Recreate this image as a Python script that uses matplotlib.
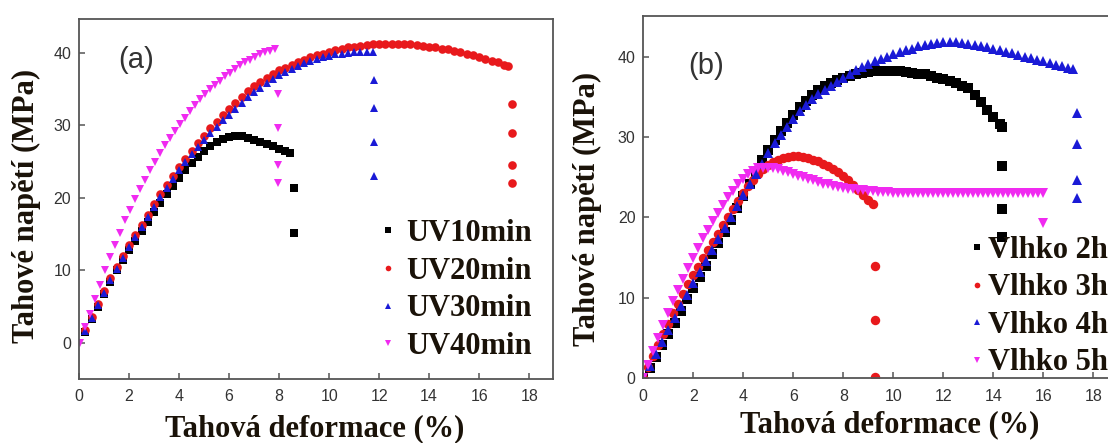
import matplotlib
matplotlib.use('Agg')
import matplotlib.pyplot as plt

# ---- panel (a): UV exposure ----
uv10_x = [0.25, 0.5, 0.75, 1.0, 1.25, 1.5, 1.75, 2.0, 2.25, 2.5, 2.75, 3.0, 3.25, 3.5, 3.75, 4.0,
          4.25, 4.5, 4.75, 5.0, 5.25, 5.5, 5.75, 6.0, 6.25, 6.5, 6.75, 7.0, 7.25, 7.5, 7.75, 8.0,
          8.25, 8.45]
uv10_y = [1.5, 3.3, 5.0, 6.7, 8.4, 10.0, 11.4, 12.8, 14.1, 15.4, 16.7, 18.0, 19.3, 20.5, 21.7, 22.8,
          23.8, 24.8, 25.7, 26.5, 27.2, 27.7, 28.1, 28.4, 28.5, 28.5, 28.3, 28.0, 27.7, 27.4, 27.1, 26.8,
          26.5, 26.2]
uv10_drop_x = [8.6, 8.6]
uv10_drop_y = [21.3, 15.2]

uv20_x = [0.25, 0.5, 0.75, 1.0, 1.25, 1.5, 1.75, 2.0, 2.25, 2.5, 2.75, 3.0, 3.25, 3.5, 3.75, 4.0,
          4.25, 4.5, 4.75, 5.0, 5.25, 5.5, 5.75, 6.0, 6.25, 6.5, 6.75, 7.0, 7.25, 7.5, 7.75, 8.0,
          8.25, 8.5, 8.75, 9.0, 9.25, 9.5, 9.75, 10.0, 10.25, 10.5, 10.75, 11.0, 11.25, 11.5, 11.75, 12.0,
          12.25, 12.5, 12.75, 13.0, 13.25, 13.5, 13.75, 14.0, 14.25, 14.5, 14.75, 15.0, 15.25, 15.5, 15.75, 16.0,
          16.25, 16.5, 16.75, 17.0, 17.15]
uv20_y = [1.8, 3.6, 5.4, 7.2, 8.9, 10.5, 12.0, 13.5, 14.9, 16.3, 17.7, 19.2, 20.5, 21.8, 23.0, 24.2,
          25.4, 26.5, 27.6, 28.6, 29.6, 30.5, 31.4, 32.3, 33.1, 33.9, 34.7, 35.4, 36.0, 36.6, 37.1, 37.6,
          38.0, 38.4, 38.8, 39.1, 39.4, 39.7, 39.9, 40.2, 40.4, 40.6, 40.8, 40.9, 41.0, 41.1, 41.2, 41.3,
          41.3, 41.3, 41.3, 41.2, 41.2, 41.1, 41.0, 40.9, 40.8, 40.6, 40.5, 40.3, 40.1, 39.9, 39.7, 39.4,
          39.2, 38.9, 38.7, 38.4, 38.2]
uv20_drop_x = [17.3, 17.3, 17.3, 17.3]
uv20_drop_y = [32.9, 28.9, 24.5, 22.1]

uv30_x = [0.25, 0.5, 0.75, 1.0, 1.25, 1.5, 1.75, 2.0, 2.25, 2.5, 2.75, 3.0, 3.25, 3.5, 3.75, 4.0,
          4.25, 4.5, 4.75, 5.0, 5.25, 5.5, 5.75, 6.0, 6.25, 6.5, 6.75, 7.0, 7.25, 7.5, 7.75, 8.0,
          8.25, 8.5, 8.75, 9.0, 9.25, 9.5, 9.75, 10.0, 10.25, 10.5, 10.75, 11.0, 11.25, 11.5, 11.75]
uv30_y = [1.6, 3.4, 5.2, 6.9, 8.6, 10.2, 11.7, 13.2, 14.6, 16.0, 17.4, 18.8, 20.1, 21.4, 22.6, 23.8,
          24.9, 26.0, 27.0, 28.0, 28.9, 29.8, 30.7, 31.5, 32.3, 33.1, 33.9, 34.6, 35.2, 35.8, 36.4, 36.9,
          37.4, 37.8, 38.2, 38.6, 38.9, 39.2, 39.4, 39.6, 39.8, 39.9, 40.0, 40.1, 40.1, 40.1, 40.1]
uv30_drop_x = [11.8, 11.8, 11.8, 11.8]
uv30_drop_y = [36.3, 32.4, 27.7, 23.0]

uv40_x = [0.05, 0.25, 0.45, 0.65, 0.85, 1.05, 1.25, 1.45, 1.65, 1.85, 2.05, 2.25, 2.45, 2.65, 2.85, 3.05,
          3.25, 3.45, 3.65, 3.85, 4.05, 4.25, 4.45, 4.65, 4.85, 5.05, 5.25, 5.45, 5.65, 5.85, 6.05, 6.25,
          6.45, 6.65, 6.85, 7.05, 7.25, 7.45, 7.65, 7.85]
uv40_y = [0.0, 2.2, 4.0, 6.0, 8.0, 10.0, 11.8, 13.5, 15.2, 16.9, 18.4, 19.8, 21.2, 22.5, 23.8, 25.0,
          26.2, 27.3, 28.3, 29.3, 30.2, 31.1, 32.0, 32.8, 33.6, 34.3, 35.0, 35.6, 36.2, 36.8, 37.3, 37.8,
          38.3, 38.7, 39.1, 39.5, 39.8, 40.1, 40.3, 40.5]
uv40_drop_x = [7.95, 7.95, 7.95, 7.95]
uv40_drop_y = [34.3, 29.7, 24.6, 22.0]

# ---- panel (b): humidity exposure ----
h2_x = [0.0, 0.25, 0.5, 0.75, 1.0, 1.25, 1.5, 1.75, 2.0, 2.25, 2.5, 2.75, 3.0, 3.25, 3.5, 3.75,
        4.0, 4.25, 4.5, 4.75, 5.0, 5.25, 5.5, 5.75, 6.0, 6.25, 6.5, 6.75, 7.0, 7.25, 7.5, 7.75,
        8.0, 8.25, 8.5, 8.75, 9.0, 9.25, 9.5, 9.75, 10.0, 10.25, 10.5, 10.75, 11.0, 11.25, 11.5, 11.75,
        12.0, 12.25, 12.5, 12.75, 13.0, 13.25, 13.5, 13.75, 14.0, 14.25, 14.35]
h2_y = [0.0, 1.3, 2.7, 4.1, 5.5, 6.9, 8.4, 9.8, 11.2, 12.6, 14.0, 15.4, 16.8, 18.2, 19.7, 21.2,
        22.7, 24.2, 25.7, 27.1, 28.4, 29.6, 30.8, 31.8, 32.8, 33.7, 34.5, 35.2, 35.8, 36.3, 36.7, 37.1,
        37.4, 37.6, 37.8, 38.0, 38.1, 38.2, 38.2, 38.2, 38.2, 38.2, 38.1, 38.0, 37.9, 37.8, 37.6, 37.4,
        37.2, 37.0, 36.7, 36.4, 36.1, 35.2, 34.3, 33.4, 32.5, 31.6, 31.3]
h2_drop_x = [14.35, 14.35, 14.35]
h2_drop_y = [26.4, 21.1, 17.6]

h3_x = [0.0, 0.2, 0.4, 0.6, 0.8, 1.0, 1.2, 1.4, 1.6, 1.8, 2.0, 2.2, 2.4, 2.6, 2.8, 3.0,
        3.2, 3.4, 3.6, 3.8, 4.0, 4.2, 4.4, 4.6, 4.8, 5.0, 5.2, 5.4, 5.6, 5.8, 6.0, 6.2,
        6.4, 6.6, 6.8, 7.0, 7.2, 7.4, 7.6, 7.8, 8.0, 8.2, 8.4, 8.6, 8.8, 9.0, 9.2]
h3_y = [0.0, 1.4, 2.8, 4.2, 5.5, 6.8, 8.1, 9.3, 10.5, 11.7, 12.8, 13.9, 15.0, 16.0, 17.0, 18.0,
        19.0, 20.0, 21.0, 22.0, 23.0, 23.9, 24.7, 25.4, 26.0, 26.5, 26.9, 27.2, 27.4, 27.5, 27.6, 27.6,
        27.5, 27.4, 27.2, 27.0, 26.7, 26.4, 26.0, 25.6, 25.1, 24.6, 24.0, 23.4, 22.8, 22.2, 21.7]
h3_drop_x = [9.25, 9.25, 9.25]
h3_drop_y = [14.0, 7.3, 0.2]

h4_x = [0.0, 0.25, 0.5, 0.75, 1.0, 1.25, 1.5, 1.75, 2.0, 2.25, 2.5, 2.75, 3.0, 3.25, 3.5, 3.75,
        4.0, 4.25, 4.5, 4.75, 5.0, 5.25, 5.5, 5.75, 6.0, 6.25, 6.5, 6.75, 7.0, 7.25, 7.5, 7.75,
        8.0, 8.25, 8.5, 8.75, 9.0, 9.25, 9.5, 9.75, 10.0, 10.25, 10.5, 10.75, 11.0, 11.25, 11.5, 11.75,
        12.0, 12.25, 12.5, 12.75, 13.0, 13.25, 13.5, 13.75, 14.0, 14.25, 14.5, 14.75, 15.0, 15.25, 15.5, 15.75,
        16.0, 16.25, 16.5, 16.75, 17.0, 17.2]
h4_y = [0.0, 1.5, 3.0, 4.5, 6.0, 7.5, 9.0, 10.4, 11.8, 13.2, 14.6, 16.0, 17.3, 18.7, 20.0, 21.4,
        22.8, 24.1, 25.4, 26.7, 28.0, 29.2, 30.3, 31.3, 32.3, 33.2, 34.0, 34.7, 35.3, 35.9, 36.4, 36.9,
        37.4, 37.8, 38.3, 38.7, 39.1, 39.4, 39.7, 40.0, 40.3, 40.6, 40.8, 41.0, 41.3, 41.5, 41.6, 41.7,
        41.8, 41.8, 41.8, 41.7, 41.6, 41.5, 41.3, 41.2, 41.0, 40.8, 40.6, 40.4, 40.2, 40.0, 39.8, 39.6,
        39.4, 39.2, 39.0, 38.8, 38.6, 38.4]
h4_drop_x = [17.35, 17.35, 17.35, 17.35]
h4_drop_y = [33.0, 29.1, 24.7, 22.4]

h5_x = [0.0, 0.2, 0.4, 0.6, 0.8, 1.0, 1.2, 1.4, 1.6, 1.8, 2.0, 2.2, 2.4, 2.6, 2.8, 3.0,
        3.2, 3.4, 3.6, 3.8, 4.0, 4.2, 4.4, 4.6, 4.8, 5.0, 5.2, 5.4, 5.6, 5.8, 6.0, 6.2,
        6.4, 6.6, 6.8, 7.0, 7.2, 7.4, 7.6, 7.8, 8.0, 8.2, 8.4, 8.6, 8.8, 9.0, 9.2, 9.4,
        9.6, 9.8, 10.0, 10.2, 10.4, 10.6, 10.8, 11.0, 11.2, 11.4, 11.6, 11.8, 12.0, 12.2, 12.4, 12.6,
        12.8, 13.0, 13.2, 13.4, 13.6, 13.8, 14.0, 14.2, 14.4, 14.6, 14.8, 15.0, 15.2, 15.4, 15.6, 15.8,
        16.0]
h5_y = [0.0, 1.7, 3.4, 5.0, 6.6, 8.1, 9.6, 11.0, 12.4, 13.7, 15.0, 16.2, 17.4, 18.5, 19.6, 20.6,
        21.6, 22.5, 23.3, 24.1, 24.8, 25.4, 25.8, 26.1, 26.2, 26.2, 26.1, 26.0, 25.8, 25.6, 25.4, 25.2,
        25.0, 24.8, 24.6, 24.4, 24.2, 24.1, 23.9, 23.8, 23.7, 23.6, 23.5, 23.4, 23.4, 23.3, 23.3, 23.2,
        23.2, 23.2, 23.1, 23.1, 23.1, 23.1, 23.1, 23.0, 23.0, 23.0, 23.1, 23.1, 23.1, 23.0, 23.0, 23.0,
        23.1, 23.1, 23.0, 23.0, 23.0, 23.1, 23.1, 23.0, 23.0, 23.0, 23.1, 23.1, 23.0, 23.0, 23.1, 23.1,
        23.1]
h5_drop_x = [16.0]
h5_drop_y = [19.3]

xticks = [0, 2, 4, 6, 8, 10, 12, 14, 16, 18]
yticks = [0, 10, 20, 30, 40]

BLACK = '#000000'
RED = '#e8191c'
BLUE = '#1a1ad6'
MAGENTA = '#f02af0'
TXT = '#1a1208'

serif = {'family': 'Liberation Serif', 'weight': 'bold'}

fig = plt.figure(figsize=(11.08, 4.43), dpi=100)
ax_a = fig.add_axes([79 / 1108, 64 / 443, 474 / 1108, 360 / 443])
ax_b = fig.add_axes([643.3 / 1108, 64.7 / 443, 493.75 / 1108, 362.3 / 443])


def draw(ax, series, ms):
    handles = []
    for x, y, dx, dy, mk, col, lab in series:
        h, = ax.plot(x, y, ls='none', marker=mk, ms=ms, mew=0, color=col, label=lab)
        ax.plot(dx, dy, ls='none', marker=mk, ms=ms, mew=0, color=col)
        handles.append(h)
    return handles


def style(ax, ylim, xlim):
    ax.set_xlim(*xlim)
    ax.set_ylim(*ylim)
    ax.set_xticks(xticks)
    ax.set_yticks(yticks)
    for s in ax.spines.values():
        s.set_color('#555555')
        s.set_linewidth(1.3)
    ax.tick_params(direction='in', length=4, width=1.1, color='#555555',
                   labelsize=11.5, labelcolor='#333333')
    ax.tick_params(axis='x', pad=7.5)
    ax.tick_params(axis='y', pad=5.5)
    for lab in ax.get_xticklabels() + ax.get_yticklabels():
        lab.set_family('Liberation Sans')
    ax.set_xlabel('Tahová deformace (%)', fontdict=serif, fontsize=22, color=TXT, va='baseline')
    ax.set_ylabel('Tahové napětí (MPa)', fontdict=serif, fontsize=22, color=TXT, va='center')


ha = draw(ax_a, [
    (uv10_x, uv10_y, uv10_drop_x, uv10_drop_y, 's', BLACK, 'UV10min'),
    (uv20_x, uv20_y, uv20_drop_x, uv20_drop_y, 'o', RED, 'UV20min'),
    (uv30_x, uv30_y, uv30_drop_x, uv30_drop_y, '^', BLUE, 'UV30min'),
    (uv40_x, uv40_y, uv40_drop_x, uv40_drop_y, 'v', MAGENTA, 'UV40min'),
], 6.2)
style(ax_a, (-5, 44.7), (0, 18.95))
ax_a.xaxis.set_label_coords(0.498, -0.158)
ax_a.yaxis.set_label_coords(-0.11, 0.48)
ax_a.text(2.3, 39.1, '(a)', fontsize=21, family='Liberation Sans', color='#333333',
          ha='center', va='center')
ax_a.legend(handles=ha, loc='center left', bbox_to_anchor=(382 / 1108, 153 / 443),
            bbox_transform=fig.transFigure, frameon=False, markerscale=0.65,
            handlelength=0.4, handletextpad=0.4, labelspacing=0.28, borderpad=0,
            borderaxespad=0, prop={'family': 'Liberation Serif', 'weight': 'bold', 'size': 22},
            labelcolor=TXT)

hb = draw(ax_b, [
    (h2_x, h2_y, h2_drop_x, h2_drop_y, 's', BLACK, 'Vlhko 2h'),
    (h3_x, h3_y, h3_drop_x, h3_drop_y, 'o', RED, 'Vlhko 3h'),
    (h4_x, h4_y, h4_drop_x, h4_drop_y, '^', BLUE, 'Vlhko 4h'),
    (h5_x, h5_y, h5_drop_x, h5_drop_y, 'v', MAGENTA, 'Vlhko 5h'),
], 6.8)
style(ax_b, (0, 45.05), (0, 19.75))
ax_b.xaxis.set_label_coords(0.4997, -0.150)
ax_b.yaxis.set_label_coords(-0.114, 0.467)
ax_b.text(2.5, 38.8, '(b)', fontsize=21, family='Liberation Sans', color='#333333',
          ha='center', va='center')
ax_b.legend(handles=hb, loc='center left', bbox_to_anchor=(970.5 / 1108, 136.5 / 443),
            bbox_transform=fig.transFigure, frameon=False, markerscale=0.6,
            handlelength=0.4, handletextpad=0.18, labelspacing=0.28, borderpad=0,
            borderaxespad=0, prop={'family': 'Liberation Serif', 'weight': 'bold', 'size': 22},
            labelcolor=TXT)

fig.savefig('out.png', dpi=100)
